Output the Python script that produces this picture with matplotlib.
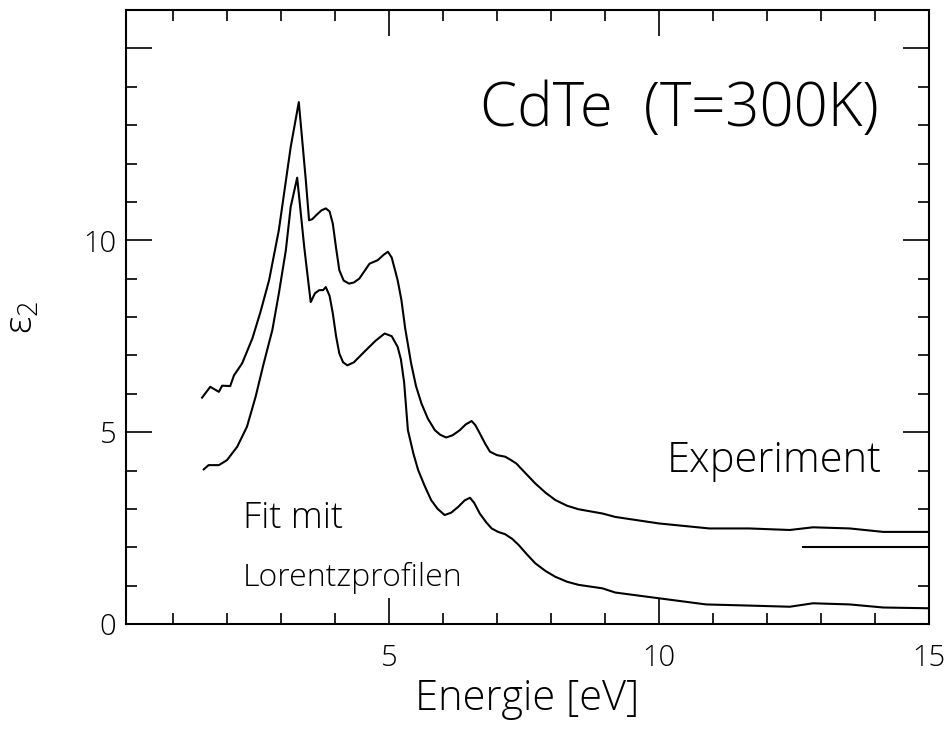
import matplotlib
matplotlib.use('Agg')
import matplotlib.pyplot as plt
from matplotlib.ticker import MultipleLocator

plt.rcParams['font.family'] = ['Open Sans', 'DejaVu Sans']
plt.rcParams['font.weight'] = 'light'
plt.rcParams['axes.labelweight'] = 'light'
plt.rcParams['mathtext.fontset'] = 'dejavusans'

# Experiment (upper curve)
exp_x = [1.54, 1.69, 1.85, 1.91, 2.06, 2.13, 2.28, 2.47, 2.62, 2.78, 2.96, 3.18, 3.33,
         3.46, 3.52, 3.58, 3.65, 3.75, 3.83, 3.90, 3.96, 4.02, 4.08, 4.16, 4.26, 4.35,
         4.45, 4.64, 4.79, 4.90, 4.98, 5.05, 5.16, 5.23, 5.30, 5.41, 5.50, 5.60, 5.72,
         5.85, 5.95, 6.06, 6.18, 6.31, 6.42, 6.53, 6.60, 6.68, 6.78, 6.87, 7.00, 7.15,
         7.25, 7.36, 7.50, 7.71, 7.90, 8.08, 8.30, 8.51, 8.95, 9.19, 10.0, 10.93, 11.67,
         12.42, 12.85, 13.53, 14.15, 15.0]
exp_y = [5.90, 6.18, 6.05, 6.21, 6.20, 6.48, 6.79, 7.44, 8.13, 8.96, 10.26, 12.43, 13.60,
         11.56, 10.52, 10.55, 10.65, 10.78, 10.83, 10.75, 10.43, 9.80, 9.22, 8.95, 8.87, 8.90,
         9.00, 9.39, 9.48, 9.62, 9.70, 9.55, 8.96, 8.44, 7.70, 6.79, 6.20, 5.75, 5.35,
         5.05, 4.93, 4.86, 4.92, 5.05, 5.20, 5.29, 5.18, 4.97, 4.70, 4.49, 4.40, 4.36,
         4.28, 4.18, 3.97, 3.66, 3.42, 3.23, 3.08, 2.99, 2.88, 2.79, 2.62, 2.49, 2.49,
         2.45, 2.52, 2.49, 2.40, 2.40]

# Fit mit Lorentzprofilen (lower curve)
fit_x = [1.57, 1.66, 1.85, 2.00, 2.19, 2.37, 2.53, 2.68, 2.84, 2.96, 3.09, 3.18, 3.30,
         3.43, 3.55, 3.63, 3.71, 3.78, 3.83, 3.90, 3.96, 4.02, 4.08, 4.15, 4.23, 4.35,
         4.54, 4.75, 4.92, 5.05, 5.16, 5.22, 5.28, 5.35, 5.45, 5.54, 5.66, 5.78, 5.90,
         6.03, 6.15, 6.28, 6.40, 6.50, 6.58, 6.68, 6.80, 6.90, 7.02, 7.15, 7.28, 7.40,
         7.55, 7.71, 7.90, 8.08, 8.30, 8.51, 8.95, 9.19, 10.0, 10.87, 11.67, 12.42, 12.85,
         13.53, 14.15, 15.0]
fit_y = [4.03, 4.14, 4.14, 4.27, 4.62, 5.14, 5.92, 6.79, 7.66, 8.61, 9.74, 10.87, 11.63,
         9.83, 8.39, 8.62, 8.70, 8.70, 8.78, 8.55, 8.09, 7.50, 7.05, 6.82, 6.74, 6.82,
         7.09, 7.38, 7.57, 7.50, 7.22, 6.90, 6.30, 5.05, 4.45, 4.01, 3.60, 3.23, 3.00,
         2.84, 2.90, 3.05, 3.22, 3.29, 3.15, 2.88, 2.65, 2.49, 2.40, 2.34, 2.22, 2.06,
         1.82, 1.58, 1.38, 1.23, 1.10, 1.02, 0.93, 0.82, 0.67, 0.51, 0.48, 0.45, 0.54,
         0.51, 0.43, 0.41]

# short horizontal reference line at the right edge
ref_x = [12.66, 15.0]
ref_y = [2.0, 2.0]

fig = plt.figure(figsize=(9.5, 7.3), dpi=100)
ax = fig.add_axes([0.1326, 0.1452, 0.8454, 0.8411])

ax.plot(exp_x, exp_y, color='black', lw=1.5)
ax.plot(fit_x, fit_y, color='black', lw=1.5)
ax.plot(ref_x, ref_y, color='black', lw=1.5)

ax.set_xlim(0.13, 15)
ax.set_ylim(0, 16)
ax.set_xticks([5, 10, 15])
ax.set_yticks([0, 5, 10, 15])
ax.set_yticklabels(['0', '5', '10', ''])
ax.xaxis.set_minor_locator(MultipleLocator(1))
ax.yaxis.set_minor_locator(MultipleLocator(1))
ax.tick_params(which='both', direction='in', top=True, right=True, width=1.2, labelsize=21)
ax.tick_params(which='major', length=19)
ax.tick_params(which='minor', length=8)
ax.tick_params(axis='x', pad=14)
ax.tick_params(axis='y', pad=7)
for s in ax.spines.values():
  s.set_linewidth(1.5)

ax.set_xlabel('Energie [eV]', fontsize=30, labelpad=3)
ax.set_ylabel(r'$\mathregular{\varepsilon_2}$', fontsize=28, labelpad=30)

ax.text(6.68, 12.97, 'CdTe  (T=300K)', fontsize=43, ha='left', va='baseline')
ax.text(10.15, 3.96, 'Experiment', fontsize=30, ha='left', va='baseline')
ax.text(2.29, 2.5, 'Fit mit', fontsize=26, ha='left', va='baseline')
ax.text(2.29, 0.99, 'Lorentzprofilen', fontsize=23, ha='left', va='baseline')

fig.savefig('out.png', dpi=100)
